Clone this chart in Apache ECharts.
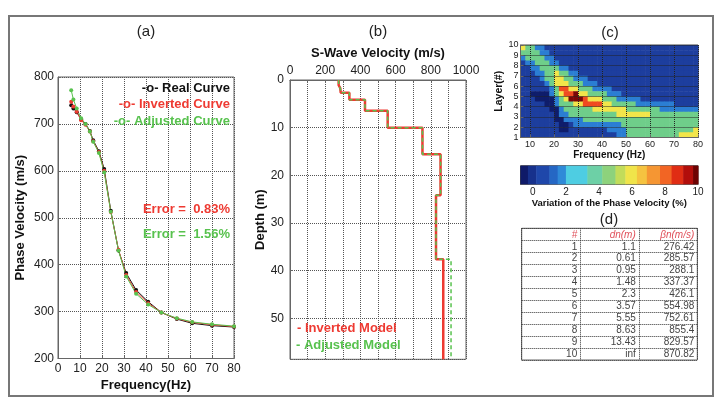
<!DOCTYPE html>
<html>
<head>
<meta charset="utf-8">
<script src="https://cdn.jsdelivr.net/npm/echarts@6/dist/echarts.min.js"></script>
<style>
  html, body { margin: 0; padding: 0; background: #fff; }
  #chart { width: 722px; height: 398px; }
</style>
</head>
<body>
<div id="chart"></div>
<script>
// (a) dispersion curves
var freqA = [6, 7, 8.5, 10.5, 12.5, 14.5, 16, 18.6, 21, 24, 27.5, 31, 35.5, 41, 47, 54, 61, 70, 80];
var realCurve = [740, 733, 725, 710, 700, 685, 665, 642, 604, 515, 430, 382, 346, 321, 298, 284, 275, 270, 267];
var invertedCurve = [747, 737, 726, 708, 698, 684, 663, 640, 600, 512, 432, 378, 342, 318, 298, 285, 277, 272, 268];
var adjustedCurve = [772, 752, 733, 712, 700, 684, 662, 638, 597, 513, 430, 375, 338, 315, 298, 286, 278, 273, 269];

// (b) + (d) layered model (last layer = half-space)
var layerThick = [1.1, 0.61, 0.95, 1.48, 2.3, 3.57, 5.55, 8.63, 13.43];
var invertedVs = [276.42, 285.57, 288.1, 337.37, 426.1, 554.98, 752.61, 855.4, 829.57, 870.82];
var adjustedVs = [276.42, 285.57, 288.1, 337.37, 426.1, 554.98, 752.61, 855.4, 829.57, 915];
var depthMax = 58.6;
var tableHead = ['#', 'dn(m)', 'βn(m/s)'];

// (c) contour bands, one letter per 2 Hz x 0.5 layer cell
// d < 0, n ~0, b ~2, g ~4.5, y ~6, r ~8, k ~10 (%)
var contourFreqs = [7, 9, 11, 13, 15, 17, 19, 21, 23, 25, 27, 29, 31, 33, 35, 37, 39, 41, 43, 45,
                    47, 49, 51, 53, 55, 57, 59, 61, 63, 65, 67, 69, 71, 73, 75, 77, 79];
var contourLayers = [9.75, 9.25, 8.75, 8.25, 7.75, 7.25, 6.75, 6.25, 5.75, 5.25, 4.75, 4.25, 3.75, 3.25, 2.75, 2.25, 1.75, 1.25];
var bandCodes = 'dnbgyrk';
var contourRows = [
  'yggbbnnnnn nnnnnnnnnn nnnnnnnnnn nnnnnnn',
  'ggggbbnnnn nnnnnnnnnn nnnnnnnnnn nnnnnnn',
  'bggggbbnnn nnnnnnnnnn nnnnnnnnnn nnnnnnn',
  'nbbgggbbnn nnnnnnnnnn nnnnnnnnnn nnnnnnn',
  'nnbbggggbb nnnnnnnnnn nnnnnnnnnn nnnnnnn',
  'nnnbbggygg bbnnnnnnnn nnnnnnnnnn nnnnnnn',
  'nnnnbggyyg gbbbnnnnnn nnnnnnnnnn nnnnnnn',
  'nnnnnbgyyy gggbbbnnnn nnnnnnnnnn nnnnnnn',
  'nnnnnnbgrr yygggbbbbn nnnnnnnnnn nnnnnnn',
  'nnddddbgyr rkyyggggbb bnnnnnnnnn nnnnnnn',
  'nnnddddbgy kkkryyyggg bbbbbnnnnn nnnnnnn',
  'nnnnnddbgg gyyrrrryyg ggggbbbbbb bbnnnnn',
  'nnnnnnddbg gggggyyyyy yygggggggb bbbbbbb',
  'nnnnnnndbb gggggggggg yyyyyyyggg ggggggg',
  'nnnnnnnddb bbbggggggg gggggggggg ggggggg',
  'nnnnnnnndd nbbbbbbbbb bggggggggg ggggggg',
  'nnnnnnnndd nnnnnnnnbb bbgggggggg ggggggy',
  'nnnnnnnnnn nnnnnnnnnn bbgggggggg gggyyyy'
];
// colorbar blocks (% edges)
var cbarEdges = [-0.75, -0.3, 0.2, 1.0, 1.5, 2.0, 3.3, 4.2, 5.0, 5.6, 6.3, 6.9, 7.7, 8.4, 9.1, 9.7, 10];

var bandColors = ['#0f1d6b', '#1d3e9e', '#2b7ed3', '#6fce8a', '#f2e54a', '#f04b20', '#7a0707'];
var cbarColors = ['#0f1a68', '#17318c', '#1f47aa', '#2567c4', '#2f8ad8', '#4ecde2', '#6dd0a6', '#8dd27c',
                  '#c2dc5a', '#f0e44a', '#f5c340', '#f59633', '#f26524', '#e02d14', '#b20e0b', '#6e0202'];

var FONT = '"Liberation Sans", Arial, sans-serif';
var RED = '#ee3a32', GREEN = '#58c24e';

function pairs(xs, ys) {
  return xs.map(function (x, i) { return [x, ys[i]]; });
}

function stepPath(vs) {
  var pts = [], top = 0;
  vs.forEach(function (v, i) {
    var bottom = i < layerThick.length ? top + layerThick[i] : depthMax;
    pts.push([v, top], [v, bottom]);
    top = bottom;
  });
  return pts;
}

var contourData = [];
contourRows.forEach(function (row, j) {
  row.replace(/ /g, '').split('').forEach(function (ch, i) {
    contourData.push([contourFreqs[i], contourLayers[j], bandCodes.indexOf(ch)]);
  });
});

var cbarData = [];
for (var i = 0; i < cbarEdges.length - 1; i++) cbarData.push([cbarEdges[i], cbarEdges[i + 1], i]);

var cells = [];
tableHead.forEach(function (t, c) { cells.push({ c: c, r: 0, text: t, head: true }); });
invertedVs.forEach(function (v, i) {
  cells.push({ c: 0, r: i + 1, text: String(i + 1) });
  cells.push({ c: 1, r: i + 1, text: i < layerThick.length ? String(layerThick[i]) : 'inf' });
  cells.push({ c: 2, r: i + 1, text: String(v) });
});

function dotted(color) {
  return { show: true, lineStyle: { color: color, type: 'dotted', width: 1 } };
}
function nameStyle(size) {
  return { fontFamily: FONT, fontWeight: 'bold', fontSize: size, color: '#111' };
}
function label(size, margin, fmt) {
  var o = { fontFamily: FONT, fontSize: size, color: '#222', margin: margin };
  if (fmt) o.formatter = fmt;
  return o;
}
var tickIn = { show: true, inside: true, length: 3, lineStyle: { color: '#666' } };
var lineGray = { show: true, lineStyle: { color: '#666', width: 1 } };

function txt(x, y, text, font, color, align) {
  return {
    type: 'text', x: x, y: y, z: 20,
    style: { text: text, font: font, fill: color, textAlign: align, align: align,
             textVerticalAlign: 'middle', verticalAlign: 'middle' }
  };
}

var chart = echarts.init(document.getElementById('chart'));

chart.setOption({
  animation: false,
  backgroundColor: '#fff',
  textStyle: { fontFamily: FONT },
  grid: [
    { left: 58, top: 77, width: 176, height: 281.5, show: true, borderColor: '#666', outerBoundsMode: 'none' },
    { left: 290, top: 80, width: 176, height: 279.3, show: true, borderColor: '#666', outerBoundsMode: 'none' },
    { left: 520.5, top: 45, width: 177.5, height: 92.5, show: true, borderColor: '#444', outerBoundsMode: 'none' },
    { left: 520.5, top: 165.7, width: 177.5, height: 18.6, show: true, borderColor: '#444', outerBoundsMode: 'none' },
    { left: 521.7, top: 228.3, width: 175.6, height: 131.7, show: true, borderColor: '#666', outerBoundsMode: 'none' }
  ],
  xAxis: [
    { gridIndex: 0, type: 'value', min: 0, max: 80, interval: 10,
      axisLine: lineGray, axisTick: tickIn, axisLabel: label(12, 4), splitLine: dotted('#555'),
      name: 'Frequency(Hz)', nameLocation: 'middle', nameGap: 17, nameTextStyle: nameStyle(13) },
    { gridIndex: 1, type: 'value', position: 'top', min: 0, max: 1000, interval: 100,
      axisLine: lineGray, axisTick: tickIn,
      axisLabel: label(12, 3, function (v) { return v % 200 === 0 ? v : ''; }),
      splitLine: dotted('#555'),
      name: 'S-Wave Velocity (m/s)', nameLocation: 'middle', nameGap: 18, nameTextStyle: nameStyle(13) },
    { gridIndex: 2, type: 'value', min: 6, max: 80, splitNumber: 7, z: 10,
      axisLine: lineGray, axisTick: tickIn,
      axisLabel: label(9, 3, function (v) { return v % 10 === 0 ? v : ''; }),
      splitLine: dotted('#222'),
      name: 'Frequency (Hz)', nameLocation: 'middle', nameGap: 13, nameTextStyle: nameStyle(10) },
    { gridIndex: 3, type: 'value', min: -0.75, max: 10, splitNumber: 5,
      axisLine: lineGray, axisTick: { show: false }, splitLine: { show: false },
      axisLabel: label(10, 3, function (v) { return v % 2 === 0 ? v : ''; }),
      name: 'Variation of the Phase Velocity (%)', nameLocation: 'middle', nameGap: 12, nameTextStyle: nameStyle(9.5) },
    { gridIndex: 4, type: 'category', data: tableHead,
      axisLine: { show: false }, axisTick: { show: false }, axisLabel: { show: false },
      splitLine: { show: true, interval: 0, lineStyle: { color: '#333', type: 'dotted' } } }
  ],
  yAxis: [
    { gridIndex: 0, type: 'value', min: 200, max: 800, interval: 100,
      axisLine: lineGray, axisTick: tickIn, axisLabel: label(12, 4), splitLine: dotted('#555'),
      name: 'Phase Velocity (m/s)', nameLocation: 'middle', nameGap: 31, nameTextStyle: nameStyle(13) },
    { gridIndex: 1, type: 'value', inverse: true, min: 0, max: depthMax, interval: 10,
      axisLine: lineGray, axisTick: tickIn,
      axisLabel: label(12, 6, function (v) { return v % 10 === 0 ? v : ''; }),
      splitLine: dotted('#555'),
      name: 'Depth (m)', nameLocation: 'middle', nameGap: 22, nameTextStyle: nameStyle(13) },
    { gridIndex: 2, type: 'value', min: 1, max: 10, interval: 1, z: 10,
      axisLine: lineGray, axisTick: tickIn, axisLabel: label(9, 2), splitLine: dotted('#222'),
      name: 'Layer(#)', nameLocation: 'middle', nameGap: 16, nameTextStyle: nameStyle(10.5) },
    { gridIndex: 3, type: 'value', min: 0, max: 1, show: false },
    { gridIndex: 4, type: 'category', inverse: true, data: [0, 1, 2, 3, 4, 5, 6, 7, 8, 9, 10],
      axisLine: { show: false }, axisTick: { show: false }, axisLabel: { show: false },
      splitLine: { show: true, interval: 0, lineStyle: { color: '#333', type: 'dotted' } } }
  ],
  series: [
    { name: 'Real Curve', type: 'line', xAxisIndex: 0, yAxisIndex: 0, data: pairs(freqA, realCurve),
      symbol: 'circle', symbolSize: 4, color: '#111', lineStyle: { width: 1, color: '#111' } },
    { name: 'Inverted Curve', type: 'line', xAxisIndex: 0, yAxisIndex: 0, data: pairs(freqA, invertedCurve),
      symbol: 'circle', symbolSize: 4, color: RED, lineStyle: { width: 1, color: RED } },
    { name: 'Adjusted Curve', type: 'line', xAxisIndex: 0, yAxisIndex: 0, data: pairs(freqA, adjustedCurve),
      symbol: 'circle', symbolSize: 4, color: GREEN, lineStyle: { width: 1, color: GREEN } },
    { name: 'Inverted Model', type: 'line', xAxisIndex: 1, yAxisIndex: 1, data: stepPath(invertedVs),
      symbol: 'none', lineStyle: { width: 2.5, color: RED } },
    { name: 'Adjusted Model', type: 'line', xAxisIndex: 1, yAxisIndex: 1, data: stepPath(adjustedVs),
      symbol: 'none', lineStyle: { width: 1.5, color: GREEN, type: [4, 3] } },
    { name: 'contour', type: 'custom', xAxisIndex: 2, yAxisIndex: 2, data: contourData, clip: true,
      renderItem: function (params, api) {
        var f = api.value(0), l = api.value(1);
        var a = api.coord([f - 1, l + 0.25]);
        var b = api.coord([f + 1, l - 0.25]);
        return { type: 'rect', shape: { x: a[0], y: a[1], width: b[0] - a[0] + 0.6, height: b[1] - a[1] + 0.6 },
                 style: { fill: bandColors[api.value(2)] } };
      } },
    { name: 'colorbar', type: 'custom', xAxisIndex: 3, yAxisIndex: 3, data: cbarData, encode: { x: [0, 1] },
      renderItem: function (params, api) {
        var a = api.coord([api.value(0), 1]);
        var b = api.coord([api.value(1), 0]);
        return { type: 'rect', shape: { x: a[0], y: a[1], width: b[0] - a[0] + 0.5, height: b[1] - a[1] },
                 style: { fill: cbarColors[api.value(2)] } };
      } },
    { name: 'table', type: 'custom', xAxisIndex: 4, yAxisIndex: 4,
      data: cells.map(function (c) { return [c.c, c.r]; }),
      renderItem: function (params, api) {
        var cell = cells[params.dataIndex];
        var p = api.coord([api.value(0), api.value(1)]);
        var s = api.size([1, 1]);
        return { type: 'text', x: p[0] + s[0] / 2 - 3, y: p[1] + 0.5,
                 style: { text: cell.text, textAlign: 'right', align: 'right',
                          textVerticalAlign: 'middle', verticalAlign: 'middle',
                          font: (cell.head ? 'italic ' : '') + '10px ' + FONT,
                          fill: cell.head ? '#e0505a' : '#444' } };
      } }
  ],
  graphic: { elements: [
    { type: 'rect', shape: { x: 9, y: 16, width: 704, height: 380 }, style: { fill: null, stroke: '#777', lineWidth: 2 } },
    txt(146, 32, '(a)', '15px ' + FONT, '#222', 'center'),
    txt(378, 32, '(b)', '15px ' + FONT, '#222', 'center'),
    txt(610, 33, '(c)', '15px ' + FONT, '#222', 'center'),
    txt(609, 220, '(d)', '15px ' + FONT, '#222', 'center'),
    txt(230, 88, '-o- Real Curve', 'bold 13px ' + FONT, '#111', 'right'),
    txt(230, 104.5, '-o- Inverted Curve', 'bold 13px ' + FONT, RED, 'right'),
    txt(230, 121, '-o- Adjusted Curve', 'bold 13px ' + FONT, GREEN, 'right'),
    txt(230, 209, 'Error =  0.83%', 'bold 13px ' + FONT, RED, 'right'),
    txt(230, 234, 'Error =  1.56%', 'bold 13px ' + FONT, GREEN, 'right'),
    txt(297, 328, '- Inverted Model', 'bold 13px ' + FONT, RED, 'left'),
    txt(296, 345, '- Adjusted Model', 'bold 13px ' + FONT, GREEN, 'left')
  ] }
});
</script>
</body>
</html>
